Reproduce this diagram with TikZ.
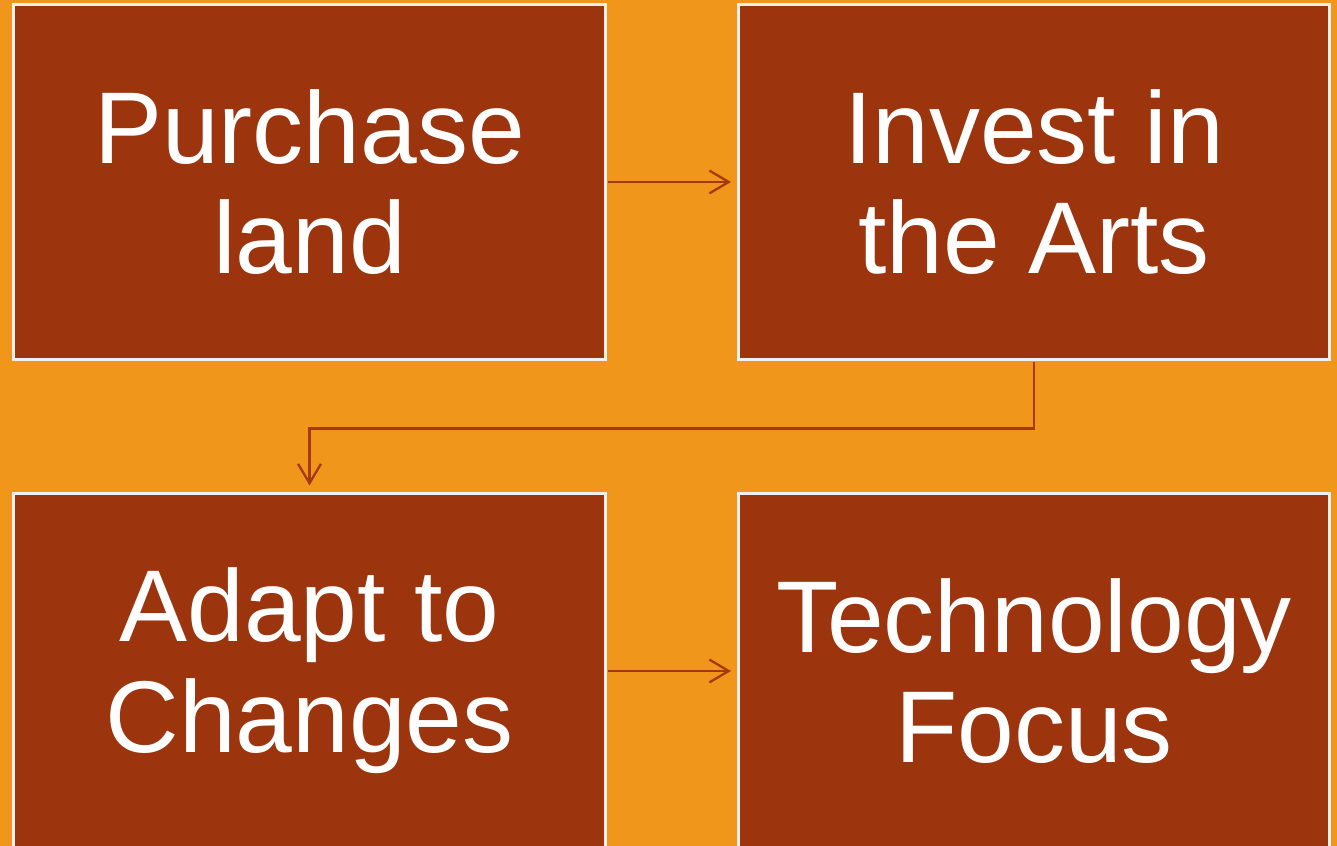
\documentclass[tikz,border=0pt]{standalone}
\usepackage{fontspec}
\setmainfont{Liberation Sans}
\usetikzlibrary{arrows.meta}
\definecolor{bgorange}{HTML}{F0961A}
\definecolor{boxrust}{HTML}{9C340E}
\definecolor{linkrust}{HTML}{A33A0C}
\tikzset{
stepbox/.style={fill=boxrust,draw=white!88!gray,line width=0.8pt,text=white,
  minimum width=5.91cm,minimum height=3.54cm,align=center,
  font=\fontsize{29}{31.5}\selectfont},
link/.style={draw=linkrust,line width=0.65pt,-{Straight Barb[length=5.5pt,width=6.5pt]}}
}
\begin{document}
\begin{tikzpicture}[x=0.01cm,y=-0.01cm]
\def\pw{1337}
\def\ph{846}
\useasboundingbox (0,0) rectangle (\pw,\ph);
\clip (0,0) rectangle (\pw,\ph);
\fill[bgorange] (0,0) rectangle (\pw,\ph);

\node[stepbox] (land) at (309.5,182) {Purchase\\land};
\node[stepbox] (arts) at (1034,182) {Invest in\\the Arts};
\node[stepbox] (adapt) at (309.5,671) {Adapt to\\Changes};
\node[stepbox] (tech) at (1034,671) {Technology\\Focus};

\draw[link,shorten <=0.5pt,shorten >=1.7pt] (land.east) -- (arts.west);
\draw[link,shorten <=0.5pt,shorten >=2pt] (arts.south) -- ++(0,68) -| (adapt.north);
\draw[link,shorten <=0.5pt,shorten >=1.7pt] (adapt.east) -- (tech.west);
\end{tikzpicture}
\end{document}
